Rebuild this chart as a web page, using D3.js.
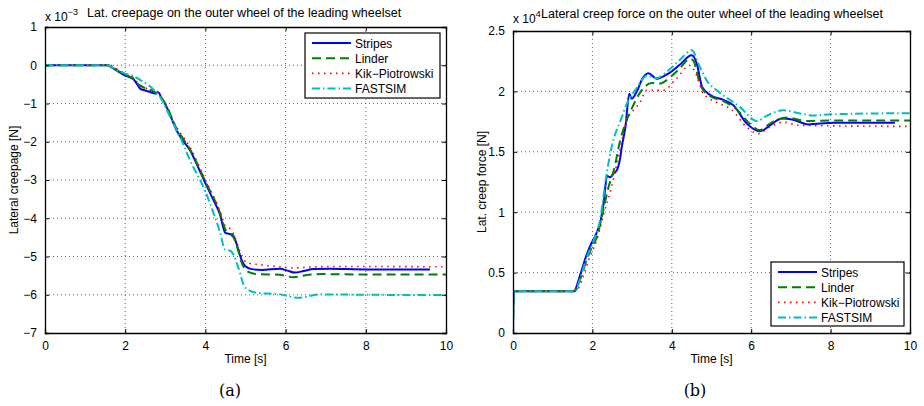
<!DOCTYPE html>
<html>
<head>
<meta charset="utf-8">
<script src="https://cdn.jsdelivr.net/npm/d3@7/dist/d3.min.js"></script>
<style>
  html, body { margin: 0; padding: 0; background: #fff; }
  svg { display: block; font-family: "Liberation Sans", Arial, sans-serif; }
</style>
</head>
<body>
<svg id="fig" width="924" height="406"></svg>
<script>
// ---- series names and tick labels ----
const seriesNames = ["Stripes", "Linder", "Kik\u2212Piotrowski", "FASTSIM"];
const timeTicks = [0, 2, 4, 6, 8, 10];
const creepageTicks = [1, 0, -1, -2, -3, -4, -5, -6, -7];
const forceTicks = [0, 0.5, 1, 1.5, 2, 2.5];

// ---- lateral creepage (x 10^-3), [time s, value] ----
const creepStripes = [[0,0],[1.55,0],[1.7,-0.08],[1.85,-0.18],[2.0,-0.27],[2.2,-0.36],[2.3,-0.5],[2.37,-0.61],[2.5,-0.66],[2.62,-0.7],[2.74,-0.74],[2.83,-0.71],[2.91,-0.87],[2.99,-1.0],[3.1,-1.25],[3.28,-1.7],[3.45,-1.98],[3.62,-2.23],[3.8,-2.62],[3.99,-3.06],[4.18,-3.48],[4.36,-3.89],[4.49,-4.37],[4.55,-4.4],[4.66,-4.42],[4.74,-4.55],[4.82,-4.82],[4.9,-5.08],[4.99,-5.25],[5.15,-5.33],[5.4,-5.35],[5.86,-5.32],[6.05,-5.37],[6.23,-5.42],[6.45,-5.38],[6.69,-5.33],[7.1,-5.32],[8,-5.34],[9.6,-5.34]];
const creepLinder = [[0,0],[1.58,0],[1.75,-0.1],[2.0,-0.25],[2.2,-0.35],[2.35,-0.52],[2.5,-0.6],[2.7,-0.68],[2.85,-0.78],[3.0,-1.0],[3.28,-1.65],[3.62,-2.2],[3.99,-3.02],[4.36,-3.85],[4.5,-4.3],[4.6,-4.4],[4.7,-4.5],[4.82,-4.85],[4.9,-5.15],[5.07,-5.4],[5.3,-5.46],[5.86,-5.48],[6.19,-5.54],[6.5,-5.49],[6.9,-5.46],[8,-5.47],[10,-5.47]];
const creepKik = [[0,0],[1.62,0],[1.8,-0.1],[2.0,-0.22],[2.2,-0.32],[2.35,-0.5],[2.5,-0.6],[2.7,-0.62],[2.8,-0.68],[2.95,-0.95],[3.28,-1.62],[3.62,-2.15],[3.99,-2.98],[4.36,-3.8],[4.5,-4.2],[4.62,-4.28],[4.72,-4.45],[4.82,-4.75],[4.92,-5.0],[5.03,-5.16],[5.4,-5.22],[5.86,-5.27],[6.2,-5.3],[6.7,-5.27],[7.2,-5.26],[10,-5.27]];
const creepFastsim = [[0,0],[1.55,0],[1.75,-0.1],[2.0,-0.22],[2.2,-0.28],[2.4,-0.4],[2.58,-0.52],[2.72,-0.65],[2.87,-0.83],[3.12,-1.35],[3.4,-1.95],[3.62,-2.49],[3.99,-3.28],[4.11,-3.6],[4.36,-4.35],[4.49,-4.82],[4.62,-4.85],[4.7,-4.95],[4.82,-5.29],[4.99,-5.81],[5.28,-5.95],[5.86,-5.99],[6.32,-6.08],[6.86,-5.99],[8,-6.0],[10,-6.01]];

// ---- lateral creep force (x 10^4 N), [time s, value] ----
const forceStripes = [[0,0],[0.02,0.345],[1.53,0.345],[1.69,0.477],[1.82,0.615],[1.95,0.726],[2.08,0.81],[2.2,0.92],[2.28,1.07],[2.37,1.3],[2.45,1.29],[2.53,1.32],[2.62,1.35],[2.7,1.45],[2.74,1.54],[2.83,1.7],[2.93,1.98],[2.99,1.94],[3.12,2.0],[3.25,2.1],[3.41,2.15],[3.62,2.105],[3.88,2.14],[4.2,2.22],[4.5,2.3],[4.63,2.23],[4.76,2.04],[4.97,1.97],[5.3,1.93],[5.55,1.885],[5.89,1.733],[6.22,1.67],[6.48,1.72],[6.77,1.775],[7.06,1.765],[7.44,1.727],[8.07,1.74],[9.62,1.74]];
const forceLinder = [[0,0],[0.02,0.345],[1.55,0.345],[1.72,0.47],[1.85,0.6],[2.0,0.72],[2.12,0.8],[2.25,0.98],[2.4,1.2],[2.55,1.36],[2.7,1.595],[2.85,1.75],[3.03,1.885],[3.2,1.99],[3.5,2.07],[3.7,2.065],[4.0,2.13],[4.2,2.19],[4.46,2.27],[4.55,2.25],[4.72,2.05],[4.97,1.96],[5.3,1.92],[5.6,1.86],[6.06,1.705],[6.2,1.68],[6.5,1.74],[6.9,1.783],[7.4,1.755],[8,1.76],[10,1.76]];
const forceKik = [[0,0],[0.02,0.345],[1.58,0.345],[1.75,0.45],[1.9,0.6],[2.11,0.77],[2.3,1.0],[2.49,1.22],[2.65,1.45],[2.87,1.76],[3.05,1.85],[3.2,1.91],[3.37,2.01],[3.79,2.01],[4.1,2.1],[4.46,2.215],[4.6,2.15],[4.8,1.98],[5.13,1.91],[5.5,1.85],[5.9,1.7],[6.18,1.65],[6.45,1.7],[6.8,1.745],[7.2,1.72],[8,1.715],[10,1.71]];
const forceFastsim = [[0,0],[0.02,0.345],[1.55,0.345],[1.72,0.48],[1.85,0.62],[2.0,0.74],[2.2,0.95],[2.35,1.3],[2.53,1.6],[2.7,1.75],[2.87,1.9],[3.12,2.03],[3.37,2.13],[3.62,2.11],[3.9,2.17],[4.2,2.26],[4.5,2.34],[4.71,2.2],[4.9,2.08],[5.13,2.01],[5.72,1.87],[6.14,1.755],[6.4,1.8],[6.81,1.843],[7.2,1.82],[7.57,1.8],[8,1.81],[10,1.82]];

// ---- line styles ----
const styles = [
  { color: "#0000ff", width: 2.0, dash: null },
  { color: "#008000", width: 2.0, dash: "9,5" },
  { color: "#ff0000", width: 1.6, dash: "1.5,4.5" },
  { color: "#00bfbf", width: 2.0, dash: "8,3,1.5,3" }
];

const svg = d3.select("#fig");

function drawPanel(opt) {
  const { left, top, right, bottom } = opt.box;
  const x = d3.scaleLinear().domain([0, 10]).range([left, right]);
  const y = d3.scaleLinear().domain(opt.yDomain).range([bottom, top]);
  const g = svg.append("g");

  // dotted grid
  const grid = g.append("g").attr("stroke", "#555").attr("stroke-width", 0.9)
    .attr("stroke-dasharray", "1,3");
  grid.selectAll(".gx").data(timeTicks.filter(t => t > 0 && t < 10)).join("line")
    .attr("x1", d => x(d)).attr("x2", d => x(d)).attr("y1", top).attr("y2", bottom);
  grid.selectAll(".gy").data(opt.yTicks.filter(v => v > opt.yDomain[0] && v < opt.yDomain[1])).join("line")
    .attr("x1", left).attr("x2", right).attr("y1", d => y(d)).attr("y2", d => y(d));

  // curves
  const line = d3.line().x(d => x(d[0])).y(d => y(d[1])).curve(d3.curveMonotoneX);
  const clip = "clip" + opt.id;
  svg.append("clipPath").attr("id", clip).append("rect")
    .attr("x", left).attr("y", top).attr("width", right - left).attr("height", bottom - top);
  const curves = g.append("g").attr("clip-path", `url(#${clip})`);
  opt.series.forEach((s, i) => {
    curves.append("path").attr("d", line(s)).attr("fill", "none")
      .attr("stroke", styles[i].color).attr("stroke-width", styles[i].width)
      .attr("stroke-dasharray", styles[i].dash)
      .attr("stroke-linejoin", "round");
  });

  // axes (inward ticks on all four sides)
  const axB = g.append("g").attr("transform", `translate(0,${bottom})`)
    .call(d3.axisBottom(x).tickValues(timeTicks).tickSize(-4).tickPadding(8).tickFormat(d3.format("d")));
  const axT = g.append("g").attr("transform", `translate(0,${top})`)
    .call(d3.axisTop(x).tickValues(timeTicks).tickSize(-4).tickFormat(""));
  const axL = g.append("g").attr("transform", `translate(${left},0)`)
    .call(d3.axisLeft(y).tickValues(opt.yTicks).tickSize(-4).tickPadding(8).tickFormat(opt.fmt));
  const axR = g.append("g").attr("transform", `translate(${right},0)`)
    .call(d3.axisRight(y).tickValues(opt.yTicks).tickSize(-4).tickFormat(""));
  [axB, axT, axL, axR].forEach(a => {
    a.select(".domain").attr("stroke", "#000").attr("stroke-width", 1.3);
    a.selectAll(".tick line").attr("stroke", "#000").attr("stroke-width", 1);
    a.selectAll("text").attr("font-size", 12).attr("fill", "#000")
      .attr("font-family", "Liberation Sans, Arial, sans-serif");
  });

  // axis labels
  g.append("text").attr("x", (left + right) / 2).attr("y", 363).attr("text-anchor", "middle")
    .attr("font-size", 12).text("Time [s]");
  g.append("text").attr("transform", `translate(${opt.yLabelX},${(top + bottom) / 2}) rotate(-90)`)
    .attr("text-anchor", "middle").attr("font-size", 12).text(opt.yLabel);

  // exponent and title
  const ex = g.append("text").attr("x", left).attr("y", opt.expY).attr("font-size", 12);
  ex.append("tspan").text("x 10");
  ex.append("tspan").attr("dy", -6).attr("font-size", 9).text(opt.exp);
  g.append("text").attr("x", opt.titleX).attr("y", opt.titleY).attr("font-size", 12.5).text(opt.title);

  // panel caption
  g.append("text").attr("x", opt.capX).attr("y", 396).attr("text-anchor", "middle")
    .attr("font-family", "DejaVu Serif, serif").attr("font-size", 16).text(opt.caption);

  // legend
  const L = opt.legend;
  const lg = g.append("g");
  lg.append("rect").attr("x", L.x).attr("y", L.y).attr("width", L.w).attr("height", L.h)
    .attr("fill", "#fff").attr("stroke", "#000").attr("stroke-width", 1.2);
  seriesNames.forEach((name, i) => {
    const yy = L.y + L.first + i * L.step;
    lg.append("line").attr("x1", L.x + 7).attr("x2", L.x + 46).attr("y1", yy).attr("y2", yy)
      .attr("stroke", styles[i].color).attr("stroke-width", styles[i].width)
      .attr("stroke-dasharray", styles[i].dash);
    lg.append("text").attr("x", L.x + 50).attr("y", yy + 4.5).attr("font-size", 12).text(name);
  });
}

drawPanel({
  id: "a",
  box: { left: 45, top: 27, right: 446, bottom: 333 },
  yDomain: [-7, 1], yTicks: creepageTicks,
  fmt: d3.format("d"),
  series: [creepStripes, creepLinder, creepKik, creepFastsim],
  yLabel: "Lateral creepage [N]", yLabelX: 18,
  exp: "\u22123", expY: 21,
  title: "Lat. creepage on the outer wheel of the leading wheelset", titleX: 87, titleY: 17,
  caption: "(a)", capX: 230,
  legend: { x: 305, y: 33, w: 135, h: 65, first: 10, step: 15.2 }
});

drawPanel({
  id: "b",
  box: { left: 513, top: 31, right: 910, bottom: 333 },
  yDomain: [0, 2.5], yTicks: forceTicks,
  fmt: d3.format("~g"),
  series: [forceStripes, forceLinder, forceKik, forceFastsim],
  yLabel: "Lat. creep force [N]", yLabelX: 486,
  exp: "4", expY: 23,
  title: "Lateral creep force on the outer wheel of the leading wheelset", titleX: 541, titleY: 18,
  caption: "(b)", capX: 695,
  legend: { x: 771, y: 262, w: 133, h: 64, first: 10, step: 15.2 }
});
</script>
</body>
</html>
